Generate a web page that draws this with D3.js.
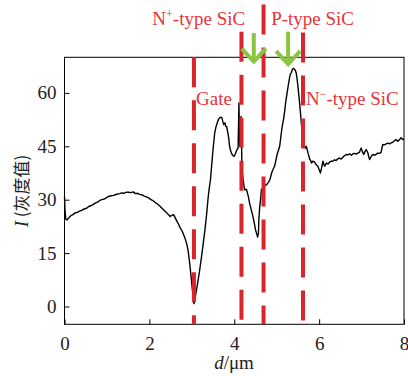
<!DOCTYPE html>
<html><head><meta charset="utf-8">
<script src="https://cdn.jsdelivr.net/npm/d3@7"></script>
<style>body{margin:0;background:#fff}svg{display:block}</style>
</head><body>
<svg id="c" width="408" height="376"></svg>
<script>
// ---- data ----
const profileD = [
0.00,0.01,0.03,0.06,0.10,0.15,0.20,0.25,0.30,0.35,
0.41,0.46,0.52,0.57,0.62,0.68,0.73,0.78,0.83,0.88,
0.94,0.99,1.04,1.10,1.15,1.20,1.25,1.30,1.35,1.40,
1.46,1.51,1.56,1.62,1.67,1.72,1.77,1.82,1.88,1.93,
1.98,2.03,2.09,2.14,2.19,2.24,2.29,2.34,2.38,2.41,
2.45,2.49,2.53,2.57,2.61,2.65,2.69,2.72,2.78,2.84,
2.88,2.91,2.95,2.99,3.03,3.05,3.07,3.09,3.12,3.15,
3.19,3.23,3.27,3.31,3.35,3.38,3.41,3.44,3.47,3.50,
3.54,3.57,3.60,3.63,3.66,3.69,3.71,3.73,3.75,3.78,
3.80,3.82,3.85,3.87,3.89,3.92,3.95,3.98,4.00,4.03,
4.05,4.07,4.09,4.10,4.11,4.12,4.13,4.15,4.16,4.17,
4.18,4.19,4.21,4.23,4.25,4.27,4.29,4.33,4.36,4.40,
4.44,4.47,4.50,4.53,4.55,4.57,4.58,4.60,4.62,4.64,
4.68,4.72,4.76,4.80,4.84,4.88,4.91,4.95,4.98,5.01,
5.04,5.07,5.11,5.13,5.16,5.19,5.21,5.24,5.27,5.30,
5.32,5.35,5.37,5.40,5.42,5.44,5.46,5.48,5.50,5.52,
5.54,5.56,5.58,5.60,5.62,5.65,5.68,5.70,5.71,5.74,
5.76,5.78,5.80,5.82,5.85,5.89,5.93,5.97,6.00,6.03,
6.06,6.09,6.11,6.13,6.15,6.17,6.21,6.25,6.29,6.32,
6.36,6.40,6.44,6.48,6.52,6.56,6.60,6.64,6.68,6.72,
6.76,6.80,6.84,6.88,6.91,6.95,6.99,7.02,7.05,7.08,
7.11,7.13,7.15,7.17,7.19,7.23,7.27,7.31,7.35,7.38,
7.42,7.46,7.48,7.50,7.54,7.58,7.62,7.66,7.70,7.73,
7.77,7.81,7.85,7.89,7.93,7.97,8.00];
const profileI = [
30.9,27.5,24.6,24.3,24.9,25.5,25.8,26.3,26.4,26.8,
27.0,27.4,27.6,28.1,28.3,28.7,29.1,29.3,29.8,30.0,
30.2,30.6,30.9,31.1,31.2,31.4,31.6,31.7,31.9,31.8,
32.1,32.1,32.0,32.2,31.7,31.8,31.5,31.4,31.0,30.8,
30.5,30.1,29.7,29.2,28.8,28.3,27.7,27.1,26.6,26.3,
25.8,25.3,25.6,25.8,24.9,23.9,23.1,22.2,21.0,19.2,
17.6,15.9,12.2,7.5,2.8,0.8,1.5,3.3,5.3,7.5,
10.6,14.1,17.8,21.6,26.0,30.0,33.2,35.6,40.0,44.1,
48.8,50.5,51.6,52.6,53.0,53.2,53.0,52.0,51.1,51.6,
50.6,50.6,48.8,47.3,45.0,43.5,42.7,42.3,42.2,43.0,
43.6,44.2,44.5,50.0,57.2,50.0,45.0,47.0,53.4,48.0,
40.0,37.5,35.6,33.8,32.8,32.9,32.8,31.0,29.1,27.2,
25.3,23.6,21.6,20.4,19.5,20.5,24.4,28.0,30.0,32.8,
33.4,34.0,34.2,34.8,35.6,37.5,38.4,39.4,41.0,42.7,
43.8,45.0,48.8,50.6,52.5,55.0,57.2,59.6,61.9,64.0,
65.2,65.8,66.6,66.9,66.6,66.3,65.6,64.0,61.9,59.6,
57.2,54.5,51.6,49.0,46.9,45.2,44.5,45.0,44.5,43.0,
42.2,41.3,41.0,40.3,40.8,40.6,39.8,39.4,38.5,37.5,
39.0,40.8,40.0,39.4,39.8,40.3,40.0,40.6,40.8,40.8,
41.2,41.0,41.5,41.7,41.4,41.9,42.4,42.7,42.6,42.9,
42.5,42.9,43.0,42.8,43.1,43.3,44.5,43.5,42.7,43.5,
44.1,43.6,43.1,42.0,41.3,42.2,42.7,42.5,42.8,43.1,
43.0,43.3,44.5,45.5,45.4,45.7,45.9,45.7,46.0,46.1,
46.5,46.9,46.4,46.8,47.4,46.9,47.0];
const xTicks = [0,2,4,6,8];
const yTicks = [0,15,30,45,60];
// region boundaries (d, µm) with their vertical extent (in I units)
const boundaryD = [3.05,4.17,4.69,5.62];
const boundaryTop = [70,77.2,84.8,77.0];
const boundaryBottom = [-5,-3.9,-5,-5];
// green arrows
const arrowD = [4.46,5.27];
const arrowTop = [76.8,77.2];
const arrowTip = [68.5,67.8];
// region labels
const labelText = ["N+-type SiC","P-type SiC","Gate","N−-type SiC"];
const labelD = [2.07,4.87,3.10,5.69];
const labelI = [79.1,79.1,56.5,56.5];

// ---- layout ----
const svg = d3.select("#c");
const m = {l:64.5, r:404, t:57.3, b:324.3};
const x = d3.scaleLinear().domain([0,8]).range([m.l, m.r]);
const y = d3.scaleLinear().domain([-5,70]).range([m.b, m.t]);
const serif = "'Liberation Serif','Times New Roman',serif";
const red = "#d9262d", redText = "#e5353b", green = "#8bc53f";

// frame
svg.append("rect").attr("x",m.l).attr("y",m.t).attr("width",m.r-m.l).attr("height",m.b-m.t)
  .attr("fill","none").attr("stroke","#000").attr("stroke-width",1);

// axes (inward ticks)
const xa = svg.append("g").attr("transform",`translate(0,${m.b})`)
  .call(d3.axisBottom(x).tickValues(xTicks).tickSize(-5).tickPadding(12).tickFormat(d3.format("d")));
const ya = svg.append("g").attr("transform",`translate(${m.l},0)`)
  .call(d3.axisLeft(y).tickValues(yTicks).tickSize(-5).tickPadding(8).tickFormat(d3.format("d")));
[xa,ya].forEach(g=>{
  g.select(".domain").remove();
  g.selectAll("line").attr("stroke","#000");
  g.selectAll("text").attr("font-family",serif).attr("font-size",19).attr("fill","#222");
});

// curve
const pts = profileD.map((d,i)=>[d,profileI[i]]);
svg.append("path").datum(pts)
  .attr("fill","none").attr("stroke","#000").attr("stroke-width",1.4).attr("stroke-linejoin","round")
  .attr("d", d3.line().x(p=>x(p[0])).y(p=>y(p[1])));

// red dashed boundaries
boundaryD.forEach((d,i)=>{
  svg.append("line").attr("x1",x(d)).attr("x2",x(d))
    .attr("y1",y(boundaryTop[i])).attr("y2",y(boundaryBottom[i]))
    .attr("stroke",red).attr("stroke-width",4).attr("stroke-dasharray","30,13");
});

// green arrows
arrowD.forEach((d,i)=>{
  const g = svg.append("g").attr("stroke",green).attr("stroke-width",4).attr("fill","none")
    .attr("stroke-linecap","butt").attr("stroke-linejoin","miter");
  const xt = x(d), yt = y(arrowTip[i]), ytop = y(arrowTop[i]);
  g.append("line").attr("x1",xt).attr("x2",xt).attr("y1",ytop).attr("y2",yt-2);
  g.append("path").attr("d",`M${xt-12},${yt-14}L${xt},${yt-1}L${xt+12},${yt-14}`);
});

// labels
labelText.forEach((t,i)=>{
  const tx = svg.append("text").attr("x",x(labelD[i])).attr("y",y(labelI[i]))
    .attr("font-family",serif).attr("font-size",19).attr("fill",redText);
  if (t.startsWith("N+") || t.startsWith("N−")) {
    tx.append("tspan").text("N");
    tx.append("tspan").attr("dy",-7).attr("font-size",12).text(t[1]);
    tx.append("tspan").attr("dy",7).text(t.slice(2));
  } else tx.text(t);
});

// axis titles
const yl = svg.append("text").attr("transform","translate(28,191) rotate(-90)")
  .attr("text-anchor","middle").attr("font-family",serif).attr("font-size",19).attr("fill","#222");
yl.append("tspan").attr("font-style","italic").text("I");
yl.append("tspan").attr("font-family","'Noto Sans CJK SC',sans-serif").attr("font-size",17).text(" (灰度值)");

const xl = svg.append("text").attr("x",234).attr("y",369).attr("text-anchor","middle")
  .attr("font-family",serif).attr("font-size",19).attr("fill","#222");
xl.append("tspan").attr("font-style","italic").text("d");
xl.append("tspan").text("/μm");
</script>
</body></html>
